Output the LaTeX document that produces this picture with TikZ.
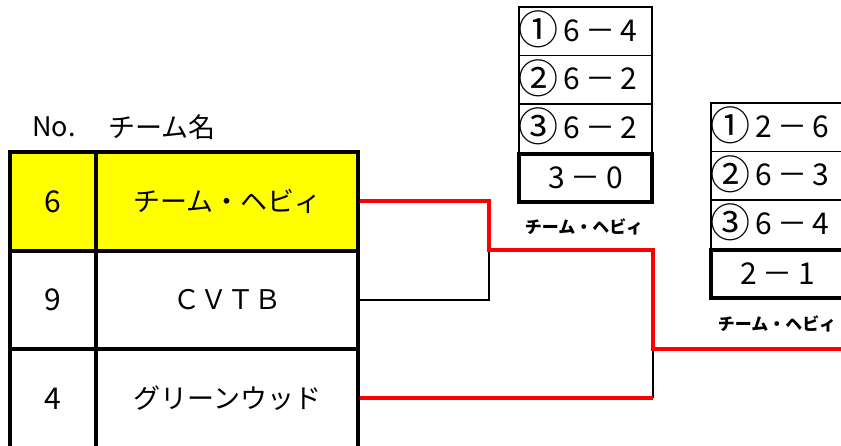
\documentclass[tikz,border=0pt]{standalone}
\usepackage{fontspec}
\setmainfont{Noto Sans CJK JP}
\usetikzlibrary{matrix}
\definecolor{winred}{RGB}{255,0,0}
\definecolor{seedyellow}{RGB}{255,255,0}
\newcommand\setscore[3]{\makebox[38.5pt]{\raisebox{-3.5pt}{\fontsize{40}{40}\selectfont#1}}\makebox[28.5pt]{#2}\makebox[28.5pt]{－}\makebox[28.5pt]{#3}\hspace{9pt}}
\newcommand\settotal[2]{\makebox[29pt]{#1}\makebox[29pt]{－}\makebox[29pt]{#2}}

\begin{document}
\begin{tikzpicture}[x=1pt,y=-1pt,font=\fontsize{27}{30}\selectfont,
  score/.style={matrix of nodes, anchor=north west, inner sep=0pt, row sep=-1.6pt,
    nodes={draw, line width=1.6pt, minimum width=133pt, minimum height=48.5pt, anchor=center,
      text height=22pt, text depth=2pt, font=\fontsize{30}{32}\selectfont},
    row 4/.style={nodes={line width=4pt}}},
  winner/.style={font=\fontsize{17}{19}\selectfont\bfseries}]
\useasboundingbox (0,0) rectangle (841,446);
\clip (0,0) rectangle (841,446);
\node (hdno) at (54,127) {No.};
\node (hdname) at (162,127) {チーム名};
\matrix (tab) [matrix of nodes, anchor=north west, inner sep=0pt, column sep=-4pt, row sep=-4pt,
  nodes={draw, line width=4pt, minimum height=98.5pt, anchor=center},
  column 1/.style={nodes={minimum width=86pt, font=\fontsize{30}{32}\selectfont}},
  column 2/.style={nodes={minimum width=262pt}},
  row 1/.style={nodes={fill=seedyellow}}] at (8,150) {
6 & チーム・ヘビィ \\
9 & ＣＶＴＢ \\
4 & グリーンウッド \\
};
\matrix (sc1) [score] at (517,6.2) {
\setscore{①}{6}{4} \\
\setscore{②}{6}{2} \\
\setscore{③}{6}{2} \\
\settotal{3}{0} \\
};
\matrix (sc2) [score] at (709,102.2) {
\setscore{①}{2}{6} \\
\setscore{②}{6}{3} \\
\setscore{③}{6}{4} \\
\settotal{2}{1} \\
};
\node[winner] (win1) at (584,227) {チーム・ヘビィ};
\node[winner] (win2) at (777,324) {チーム・ヘビィ};
\coordinate (m1) at (489,250);
\coordinate (m2) at (653,349);
\coordinate (fin) at (845,349);
\draw[line width=1.5pt] (tab-2-2.east) -| (m1);
\draw[line width=1.5pt] (tab-3-2.east -| m2) coordinate (m2b) -- (m2);
\draw[winred, line width=4pt] (tab-1-2.east) -| (m1) -| (m2) -- (fin);
\draw[winred, line width=4pt] (tab-3-2.east) -- (m2b);
\end{tikzpicture}
\end{document}
